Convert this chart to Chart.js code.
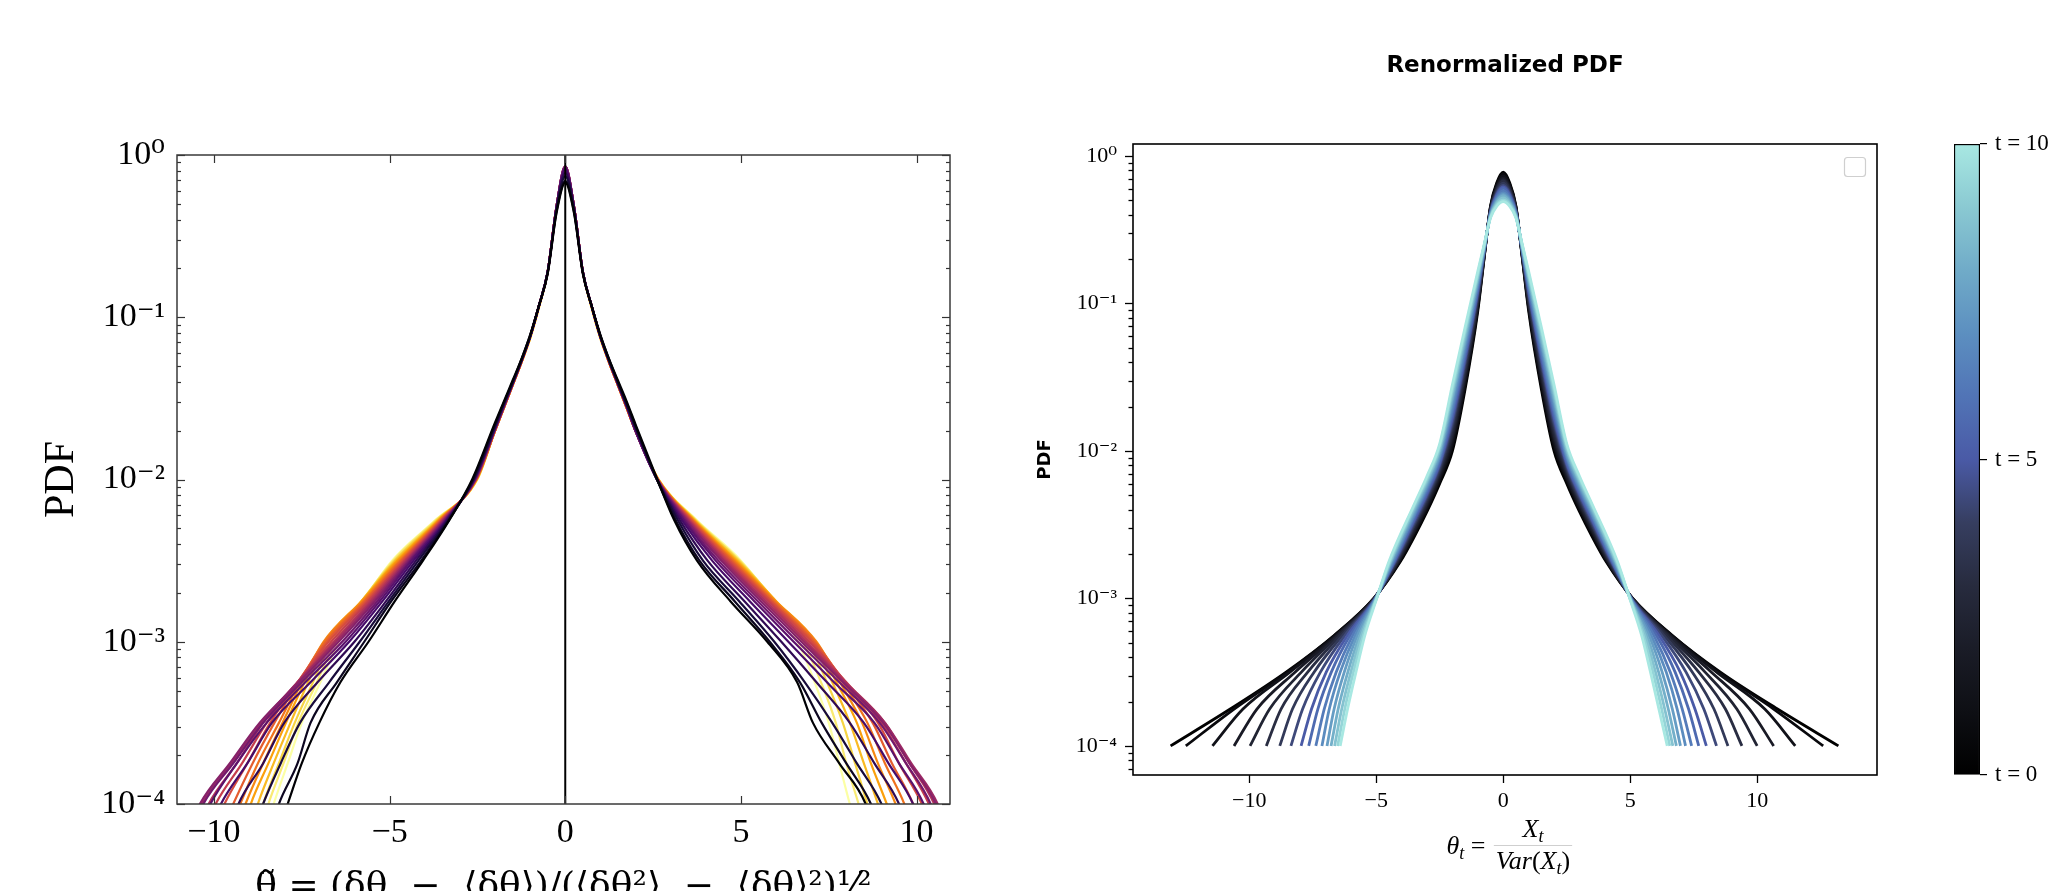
<!DOCTYPE html>
<html><head><meta charset="utf-8">
<script src="https://cdn.jsdelivr.net/npm/chart.js@4.4.1/dist/chart.umd.min.js"></script>
<style>
html,body{margin:0;padding:0;background:#fff;overflow:hidden;width:2072px;height:891px;}
canvas{position:absolute;top:0;}
#cl{left:0;} #cr{left:1000px;} #cc{left:1940px;}
</style></head><body>
<canvas id="cl" width="1000" height="930"></canvas>
<canvas id="cr" width="940" height="891"></canvas>
<canvas id="cc" width="132" height="891"></canvas>
<script>
// ---------------- LEFT PANEL DATA ----------------
const lXTicks = [-10, -5, 0, 5, 10];
const lXTickLabels = ['\u221210', '\u22125', '0', '5', '10'];
const lYTicks = [1e-4, 1e-3, 1e-2, 1e-1, 1];
const lYTickLabels = ['10\u207B\u2074', '10\u207B\u00B3', '10\u207B\u00B2', '10\u207B\u00B9', '10\u2070'];
const lXTitle = '\u03B8\u0303 = (\u03B4\u03B8  \u2212  \u27E8\u03B4\u03B8\u27E9)/(\u27E8\u03B4\u03B8\u00B2\u27E9  \u2212  \u27E8\u03B4\u03B8\u27E9\u00B2)\u00B9\u2044\u00B2';
const lColorPos = [0,0.053,0.105,0.158,0.21,0.263,0.316,0.368,0.421,0.474,0.526,0.579,0.632,0.684,0.737,0.789,0.842,0.895,0.947,1];
// core: log10(PDF) at lCoreX
const lCoreX = [-2,-1.75,-1.5,-1.25,-1,-0.75,-0.5,-0.25,0,0.25,0.5,0.75,1,1.25,1.5,1.75,2];
const lCore = [
 [-1.65,-1.52,-1.39,-1.26,-1.11,-0.93,-0.73,-0.36,-0.17,-0.36,-0.73,-0.93,-1.11,-1.26,-1.39,-1.52,-1.66],
 [-1.66,-1.53,-1.40,-1.26,-1.11,-0.93,-0.73,-0.35,-0.16,-0.35,-0.73,-0.93,-1.11,-1.26,-1.40,-1.53,-1.67],
 [-1.67,-1.53,-1.40,-1.27,-1.12,-0.93,-0.72,-0.34,-0.13,-0.34,-0.72,-0.93,-1.12,-1.27,-1.40,-1.54,-1.68],
 [-1.68,-1.54,-1.41,-1.27,-1.12,-0.93,-0.72,-0.33,-0.11,-0.33,-0.72,-0.93,-1.12,-1.27,-1.41,-1.54,-1.68],
 [-1.68,-1.54,-1.41,-1.27,-1.12,-0.93,-0.72,-0.33,-0.09,-0.33,-0.72,-0.93,-1.12,-1.27,-1.41,-1.55,-1.69],
 [-1.69,-1.55,-1.41,-1.27,-1.12,-0.93,-0.72,-0.32,-0.08,-0.32,-0.72,-0.93,-1.12,-1.27,-1.41,-1.55,-1.70],
 [-1.69,-1.55,-1.41,-1.27,-1.12,-0.93,-0.72,-0.32,-0.07,-0.32,-0.72,-0.93,-1.12,-1.27,-1.41,-1.55,-1.70],
 [-1.69,-1.55,-1.41,-1.27,-1.12,-0.93,-0.72,-0.32,-0.07,-0.32,-0.72,-0.93,-1.12,-1.27,-1.41,-1.55,-1.70],
 [-1.69,-1.55,-1.41,-1.27,-1.12,-0.93,-0.72,-0.32,-0.07,-0.32,-0.72,-0.93,-1.12,-1.27,-1.41,-1.55,-1.70],
 [-1.69,-1.55,-1.41,-1.27,-1.12,-0.93,-0.72,-0.32,-0.07,-0.32,-0.72,-0.93,-1.12,-1.27,-1.41,-1.55,-1.70],
 [-1.69,-1.55,-1.41,-1.27,-1.12,-0.93,-0.72,-0.32,-0.07,-0.32,-0.72,-0.93,-1.12,-1.27,-1.41,-1.55,-1.70],
 [-1.70,-1.56,-1.42,-1.28,-1.12,-0.93,-0.72,-0.32,-0.08,-0.32,-0.72,-0.93,-1.12,-1.28,-1.42,-1.56,-1.70],
 [-1.70,-1.56,-1.42,-1.28,-1.12,-0.93,-0.72,-0.32,-0.08,-0.32,-0.72,-0.93,-1.12,-1.28,-1.42,-1.56,-1.70],
 [-1.70,-1.56,-1.42,-1.28,-1.12,-0.93,-0.72,-0.32,-0.09,-0.32,-0.72,-0.93,-1.12,-1.28,-1.42,-1.56,-1.70],
 [-1.70,-1.56,-1.42,-1.28,-1.12,-0.93,-0.72,-0.32,-0.09,-0.32,-0.72,-0.93,-1.12,-1.28,-1.42,-1.56,-1.70],
 [-1.70,-1.56,-1.42,-1.28,-1.12,-0.93,-0.72,-0.32,-0.10,-0.32,-0.72,-0.93,-1.12,-1.28,-1.42,-1.56,-1.70],
 [-1.70,-1.56,-1.42,-1.28,-1.13,-0.94,-0.72,-0.33,-0.10,-0.33,-0.72,-0.94,-1.13,-1.28,-1.42,-1.56,-1.70],
 [-1.70,-1.56,-1.42,-1.28,-1.13,-0.94,-0.72,-0.33,-0.10,-0.33,-0.72,-0.94,-1.13,-1.28,-1.42,-1.56,-1.70],
 [-1.70,-1.56,-1.42,-1.28,-1.13,-0.94,-0.72,-0.33,-0.11,-0.33,-0.72,-0.94,-1.13,-1.28,-1.42,-1.56,-1.70],
 [-1.70,-1.56,-1.42,-1.28,-1.13,-0.94,-0.72,-0.33,-0.11,-0.33,-0.72,-0.94,-1.13,-1.28,-1.42,-1.56,-1.70]
];
// tails: x position where each curve crosses these log10 levels
const lLevels = [-2,-2.25,-2.5,-2.75,-3,-3.25,-3.5,-3.75,-4,-4.25];
const lTailLeft = [
 [-2.65,-3.30,-4.05,-4.85,-5.60,-6.40,-7.00,-7.50,-7.90,-8.30],
 [-2.63,-3.31,-4.10,-4.95,-5.72,-6.50,-7.25,-7.62,-8.15,-8.50],
 [-2.61,-3.33,-4.18,-5.02,-5.85,-6.72,-7.55,-8.10,-8.60,-9.00],
 [-2.60,-3.36,-4.25,-5.10,-6.00,-7.05,-8.00,-8.60,-9.30,-9.70],
 [-2.59,-3.38,-4.32,-5.20,-6.15,-7.25,-8.35,-9.05,-9.80,-10.30],
 [-2.58,-3.40,-4.38,-5.28,-6.25,-7.40,-8.50,-9.35,-10.10,-10.60],
 [-2.57,-3.42,-4.42,-5.35,-6.35,-7.50,-8.60,-9.45,-10.30,-10.80],
 [-2.56,-3.44,-4.46,-5.42,-6.45,-7.58,-8.70,-9.55,-10.40,-10.90],
 [-2.56,-3.46,-4.50,-5.48,-6.52,-7.62,-8.65,-9.50,-10.35,-10.85],
 [-2.55,-3.48,-4.54,-5.54,-6.58,-7.62,-8.60,-9.35,-10.15,-10.65],
 [-2.55,-3.50,-4.58,-5.60,-6.66,-7.62,-8.50,-9.20,-9.95,-10.45],
 [-2.54,-3.52,-4.62,-5.65,-6.74,-7.62,-8.40,-9.05,-9.70,-10.20],
 [-2.54,-3.54,-4.66,-5.70,-6.80,-7.60,-8.28,-8.90,-9.45,-9.95],
 [-2.53,-3.56,-4.70,-5.74,-6.85,-7.56,-8.15,-8.75,-9.25,-9.70],
 [-2.53,-3.58,-4.74,-5.78,-6.88,-7.50,-8.05,-8.60,-9.10,-9.50],
 [-2.52,-3.60,-4.78,-5.80,-6.85,-7.42,-7.95,-8.45,-8.95,-9.30],
 [-2.52,-3.62,-4.82,-5.80,-6.78,-7.32,-7.82,-8.30,-8.75,-9.10],
 [-2.51,-3.65,-4.86,-5.80,-6.66,-7.18,-7.70,-8.15,-8.60,-8.95],
 [-2.51,-3.68,-4.90,-5.78,-6.55,-7.07,-7.60,-8.02,-8.45,-8.80],
 [-2.50,-3.70,-4.93,-5.75,-6.45,-6.97,-7.50,-7.90,-8.30,-8.65]
];
const lTailRight = [
 [2.62,3.10,3.75,4.70,5.75,6.60,7.05,7.80,8.55,8.90],
 [2.61,3.14,3.82,4.82,5.82,6.68,7.30,8.00,8.70,9.10],
 [2.61,3.20,3.92,4.95,5.95,6.82,7.60,8.30,9.00,9.40],
 [2.61,3.26,4.05,5.10,6.15,7.15,8.10,8.80,9.50,9.90],
 [2.61,3.32,4.18,5.25,6.35,7.45,8.50,9.20,9.90,10.30],
 [2.61,3.37,4.28,5.38,6.50,7.65,8.80,9.50,10.20,10.60],
 [2.62,3.41,4.36,5.48,6.62,7.80,8.95,9.70,10.40,10.80],
 [2.62,3.45,4.44,5.57,6.72,7.90,9.05,9.80,10.55,10.95],
 [2.62,3.48,4.50,5.65,6.80,7.95,9.10,9.85,10.60,11.00],
 [2.63,3.51,4.56,5.72,6.87,7.98,9.10,9.80,10.50,10.90],
 [2.63,3.54,4.62,5.79,6.95,8.00,9.00,9.70,10.35,10.80],
 [2.63,3.57,4.68,5.85,7.02,7.98,8.90,9.50,10.15,10.60],
 [2.64,3.60,4.73,5.90,7.08,7.95,8.75,9.30,9.90,10.30],
 [2.64,3.62,4.78,5.95,7.12,7.90,8.60,9.10,9.65,10.05],
 [2.64,3.64,4.82,5.98,7.15,7.82,8.45,8.90,9.40,9.80],
 [2.65,3.66,4.86,6.00,7.12,7.72,8.30,8.70,9.15,9.55],
 [2.65,3.68,4.90,6.00,7.02,7.60,8.10,8.50,8.90,9.30],
 [2.65,3.70,4.94,5.98,6.90,7.45,7.90,8.25,8.60,9.00],
 [2.66,3.72,4.97,5.95,6.76,7.28,7.70,8.00,8.35,8.70],
 [2.66,3.74,5.00,5.90,6.62,7.10,7.50,7.80,8.10,8.45]
];
const vLineX = [0, 0];
const vLineY = [1e-4, 1];

// ---------------- RIGHT PANEL DATA ----------------
const rTitle = 'Renormalized PDF';
const rYTitle = 'PDF';
const rXTicks = [-10, -5, 0, 5, 10];
const rXTickLabels = ['\u221210', '\u22125', '0', '5', '10'];
const rYTicks = [1e-4, 1e-3, 1e-2, 1e-1, 1];
const rYTickLabels = ['10\u207B\u2074', '10\u207B\u00B3', '10\u207B\u00B2', '10\u207B\u00B9', '10\u2070'];
const rT = [0,0.625,1.25,1.875,2.5,3.125,3.75,4.375,5,5.625,6.25,6.875,7.5,8.125,8.75,9.375,10];
const rCoreX = [-3.5,-3,-2.5,-2,-1.5,-1,-0.75,-0.5,-0.25,0,0.25,0.5,0.75,1,1.5,2,2.5,3,3.5];
const rCore = [
 [-2.58,-2.41,-2.22,-2.0,-1.58,-1.05,-0.69,-0.34,-0.18,-0.11,-0.18,-0.34,-0.69,-1.05,-1.58,-2.0,-2.22,-2.41,-2.58],
 [-2.565,-2.395,-2.2,-1.97,-1.555,-1.03,-0.685,-0.345,-0.19,-0.12,-0.19,-0.345,-0.685,-1.03,-1.555,-1.97,-2.2,-2.395,-2.565],
 [-2.55,-2.38,-2.185,-1.945,-1.53,-1.02,-0.68,-0.35,-0.2,-0.135,-0.2,-0.35,-0.68,-1.02,-1.53,-1.945,-2.185,-2.38,-2.55],
 [-2.54,-2.365,-2.17,-1.915,-1.5,-1.0,-0.675,-0.355,-0.21,-0.15,-0.21,-0.355,-0.675,-1.0,-1.5,-1.915,-2.17,-2.365,-2.54],
 [-2.525,-2.35,-2.15,-1.89,-1.475,-0.98,-0.67,-0.36,-0.22,-0.16,-0.22,-0.36,-0.67,-0.98,-1.475,-1.89,-2.15,-2.35,-2.525],
 [-2.51,-2.335,-2.135,-1.86,-1.45,-0.97,-0.66,-0.365,-0.23,-0.17,-0.23,-0.365,-0.66,-0.97,-1.45,-1.86,-2.135,-2.335,-2.51],
 [-2.5,-2.32,-2.12,-1.83,-1.42,-0.95,-0.655,-0.37,-0.24,-0.185,-0.24,-0.37,-0.655,-0.95,-1.42,-1.83,-2.12,-2.32,-2.5],
 [-2.485,-2.305,-2.1,-1.805,-1.395,-0.93,-0.65,-0.375,-0.25,-0.2,-0.25,-0.375,-0.65,-0.93,-1.395,-1.805,-2.1,-2.305,-2.485],
 [-2.47,-2.29,-2.085,-1.775,-1.37,-0.915,-0.645,-0.38,-0.26,-0.21,-0.26,-0.38,-0.645,-0.915,-1.37,-1.775,-2.085,-2.29,-2.47],
 [-2.455,-2.275,-2.07,-1.745,-1.345,-0.9,-0.64,-0.385,-0.27,-0.22,-0.27,-0.385,-0.64,-0.9,-1.345,-1.745,-2.07,-2.275,-2.455],
 [-2.44,-2.26,-2.05,-1.72,-1.32,-0.88,-0.635,-0.39,-0.28,-0.235,-0.28,-0.39,-0.635,-0.88,-1.32,-1.72,-2.05,-2.26,-2.44],
 [-2.43,-2.245,-2.035,-1.69,-1.29,-0.865,-0.63,-0.395,-0.29,-0.25,-0.29,-0.395,-0.63,-0.865,-1.29,-1.69,-2.035,-2.245,-2.43],
 [-2.415,-2.23,-2.02,-1.66,-1.265,-0.85,-0.625,-0.4,-0.3,-0.26,-0.3,-0.4,-0.625,-0.85,-1.265,-1.66,-2.02,-2.23,-2.415],
 [-2.4,-2.215,-2.0,-1.635,-1.24,-0.83,-0.615,-0.405,-0.31,-0.27,-0.31,-0.405,-0.615,-0.83,-1.24,-1.635,-2.0,-2.215,-2.4],
 [-2.385,-2.2,-1.985,-1.605,-1.21,-0.815,-0.61,-0.41,-0.32,-0.285,-0.32,-0.41,-0.61,-0.815,-1.21,-1.605,-1.985,-2.2,-2.385],
 [-2.37,-2.185,-1.965,-1.58,-1.185,-0.8,-0.605,-0.415,-0.33,-0.3,-0.33,-0.415,-0.605,-0.8,-1.185,-1.58,-1.965,-2.185,-2.37],
 [-2.36,-2.17,-1.95,-1.55,-1.16,-0.78,-0.6,-0.42,-0.34,-0.31,-0.34,-0.42,-0.6,-0.78,-1.16,-1.55,-1.95,-2.17,-2.36]
];
const rLevels = [-2.75,-3,-3.25,-3.5,-3.75,-4];
const rTailLeft = [
 [-4.05,-5.10,-6.65,-8.55,-10.75,-13.10],
 [-4.08,-5.09,-6.64,-8.50,-10.60,-12.50],
 [-4.11,-5.09,-6.60,-8.40,-10.25,-11.45],
 [-4.13,-5.08,-6.55,-8.20,-9.70,-10.60],
 [-4.16,-5.07,-6.50,-7.95,-9.20,-9.97],
 [-4.19,-5.06,-6.42,-7.70,-8.75,-9.33],
 [-4.22,-5.06,-6.33,-7.45,-8.30,-8.80],
 [-4.25,-5.05,-6.23,-7.20,-7.90,-8.36],
 [-4.28,-5.04,-6.13,-6.97,-7.55,-7.96],
 [-4.30,-5.03,-6.03,-6.77,-7.30,-7.66],
 [-4.33,-5.03,-5.93,-6.58,-7.05,-7.38],
 [-4.36,-5.02,-5.83,-6.42,-6.85,-7.14],
 [-4.39,-5.01,-5.74,-6.26,-6.66,-6.94],
 [-4.42,-5.00,-5.65,-6.12,-6.50,-6.78],
 [-4.44,-5.00,-5.58,-6.00,-6.36,-6.64],
 [-4.47,-4.99,-5.51,-5.90,-6.24,-6.52],
 [-4.50,-4.98,-5.45,-5.80,-6.13,-6.42]
];
const rTailRight = [
 [4.05,5.10,6.65,8.55,10.80,13.20],
 [4.08,5.09,6.64,8.50,10.65,12.60],
 [4.11,5.09,6.60,8.40,10.30,11.50],
 [4.13,5.08,6.55,8.20,9.70,10.65],
 [4.16,5.07,6.50,7.95,9.20,10.00],
 [4.19,5.06,6.42,7.70,8.75,9.40],
 [4.22,5.06,6.33,7.45,8.30,8.85],
 [4.25,5.05,6.23,7.20,7.90,8.40],
 [4.28,5.04,6.13,6.97,7.55,8.00],
 [4.30,5.03,6.03,6.77,7.30,7.70],
 [4.33,5.03,5.93,6.58,7.05,7.42],
 [4.36,5.02,5.83,6.42,6.85,7.18],
 [4.39,5.01,5.74,6.26,6.66,6.98],
 [4.42,5.00,5.65,6.12,6.50,6.82],
 [4.44,5.00,5.58,6.00,6.36,6.68],
 [4.47,4.99,5.51,5.90,6.24,6.56],
 [4.50,4.98,5.45,5.80,6.13,6.46]
];
// colorbar
const cbTicks = [0, 5, 10];
const cbTickLabels = ['t = 0', 't = 5', 't = 10'];
const cbRange = [0, 10];

// ---------------- colours (style) ----------------
const infernoStops = ['#000004','#160b39','#420a68','#6a176e','#932667','#bc3754','#dd513a','#f37819','#fca50a','#f6d746','#fcffa4'];
const iceStops = [[0,'#000000'],[0.1,'#0e0f14'],[0.2,'#1a1c27'],[0.3,'#272b3e'],[0.4,'#363e60'],[0.5,'#4a5aa6'],[0.6,'#5174b6'],[0.7,'#5c8fc0'],[0.8,'#70abc8'],[0.9,'#8ac9d2'],[1,'#a8e8e2']];
function hex2rgb(h){return [parseInt(h.substr(1,2),16),parseInt(h.substr(3,2),16),parseInt(h.substr(5,2),16)];}
function mix(a,b,t){const A=hex2rgb(a),B=hex2rgb(b);return 'rgb('+A.map((v,i)=>Math.round(v+(B[i]-v)*t)).join(',')+')';}
function inferno(c){const n=infernoStops.length-1;const p=Math.min(n-1e-9,c*n);const i=Math.floor(p);return mix(infernoStops[i],infernoStops[i+1],p-i);}
function ice(c){for(let i=0;i<iceStops.length-1;i++){const [p0,c0]=iceStops[i],[p1,c1]=iceStops[i+1];if(c<=p1)return mix(c0,c1,(c-p0)/(p1-p0));}return iceStops[iceStops.length-1][1];}

// ---------------- helpers ----------------
const SERIF = '"Liberation Serif", "DejaVu Serif", serif';
function line(ctx,x0,y0,x1,y1){ctx.beginPath();ctx.moveTo(x0,y0);ctx.lineTo(x1,y1);ctx.stroke();}
function logTicks(scale, cb){
  const lo=Math.floor(Math.log10(scale.min)), hi=Math.ceil(Math.log10(scale.max));
  for(let d=lo; d<=hi; d++) for(let m=1;m<10;m++){
    const v=m*Math.pow(10,d);
    if(v<scale.min*0.9999||v>scale.max*1.0001) continue;
    cb(Math.round(scale.getPixelForValue(v))+0.5, m===1);
  }
}
function buildLeft(k){
  const pts=[];
  const L=lTailLeft[k], R=lTailRight[k];
  for(let j=lLevels.length-1;j>=0;j--) pts.push({x:L[j], y:Math.pow(10,lLevels[j])});
  lCoreX.forEach((x,i)=>pts.push({x:x, y:Math.pow(10,lCore[k][i])}));
  for(let j=0;j<lLevels.length;j++) pts.push({x:R[j], y:Math.pow(10,lLevels[j])});
  return pts;
}
function buildRight(k){
  const pts=[];
  const L=rTailLeft[k], R=rTailRight[k];
  for(let j=rLevels.length-1;j>=0;j--) pts.push({x:L[j], y:Math.pow(10,rLevels[j])});
  rCoreX.forEach((x,i)=>pts.push({x:x, y:Math.pow(10,rCore[k][i])}));
  for(let j=0;j<rLevels.length;j++) pts.push({x:R[j], y:Math.pow(10,rLevels[j])});
  return pts;
}

// ---------------- LEFT CHART ----------------
const leftSets = [];
leftSets.push({data: vLineX.map((x,i)=>({x:x, y:vLineY[i]})), borderColor:'#000', borderWidth:2, order:-1, tension:0});
lCore.forEach((row,k)=>{
  leftSets.push({data: buildLeft(k), borderColor: inferno(lColorPos[k]), borderWidth:2.2, order:0, cubicInterpolationMode:'monotone'});
});
const leftDeco = {
  id:'leftDeco',
  afterDatasetsDraw(chart){
    const {ctx, chartArea:a, scales:{x,y}} = chart;
    ctx.save();
    ctx.strokeStyle='#333'; ctx.lineWidth=1.2;
    logTicks(y,(py,maj)=>{const L=maj?8:4; line(ctx,a.left,py,a.left+L,py); line(ctx,a.right,py,a.right-L,py);});
    lXTicks.forEach(v=>{const px=Math.round(x.getPixelForValue(v))+0.5; line(ctx,px,a.bottom,px,a.bottom-8); line(ctx,px,a.top,px,a.top+8);});
    ctx.lineWidth=1.5; ctx.strokeStyle='#3a3a3a';
    ctx.strokeRect(a.left, a.top, a.right-a.left, a.bottom-a.top);
    ctx.restore();
  }
};
new Chart(document.getElementById('cl'), {
  type:'line',
  data:{datasets:leftSets},
  options:{
    responsive:false, animation:false, devicePixelRatio:1,
    layout:{padding:{left:0,right:50,top:155,bottom:0}},
    elements:{point:{radius:0}, line:{fill:false}},
    plugins:{legend:{display:false}, tooltip:{enabled:false}, title:{display:false}},
    scales:{
      x:{type:'linear', min:-11.05, max:10.95,
        afterBuildTicks:s=>{s.ticks=lXTicks.map(v=>({value:v}));},
        afterFit:s=>{s.height=126;},
        grid:{display:false, drawTicks:false}, border:{display:false},
        ticks:{autoSkip:false, maxRotation:0, padding:9, color:'#000', font:{family:SERIF, size:34}, callback:(v,i)=>lXTickLabels[i]},
        title:{display:true, text:lXTitle, color:'#000', font:{family:'"DejaVu Serif", serif', size:36}, padding:{top:0,bottom:21}}
      },
      y:{type:'logarithmic', min:1e-4, max:1,
        afterBuildTicks:s=>{s.ticks=lYTicks.map(v=>({value:v}));},
        afterFit:s=>{s.width=177;},
        grid:{display:false, drawTicks:false}, border:{display:false},
        ticks:{autoSkip:false, padding:12, color:'#000', font:{family:SERIF, size:34}, callback:(v,i)=>lYTickLabels[i]},
        title:{display:true, text:'PDF', color:'#000', font:{family:SERIF, size:42}, padding:{top:37,bottom:0}}
      }
    }
  },
  plugins:[leftDeco]
});

// ---------------- RIGHT CHART ----------------
const rightSets = [];
for(let k=rT.length-1;k>=0;k--){
  rightSets.push({data: buildRight(k), borderColor: ice(rT[k]/10), borderWidth:2.8, cubicInterpolationMode:'monotone'});
}
function drawRuns(ctx, parts, x, y, measureOnly){
  let cx=x;
  for(const p of parts){
    ctx.font=(p.i?'italic ':'')+p.s+'px '+SERIF;
    if(!measureOnly) ctx.fillText(p.t, cx, y+(p.dy||0));
    cx+=ctx.measureText(p.t).width;
  }
  return cx-x;
}
const rXLhs = [{t:'\u03B8',i:1,s:26},{t:'t',i:1,s:18,dy:5},{t:' = ',s:26}];
const rXNum = [{t:'X',i:1,s:26},{t:'t',i:1,s:18,dy:5}];
const rXDen = [{t:'Var',i:1,s:26},{t:'(',s:26},{t:'X',i:1,s:26},{t:'t',i:1,s:18,dy:5},{t:')',s:26}];
const rightDeco = {
  id:'rightDeco',
  afterDraw(chart){
    const {ctx, chartArea:a, scales:{x,y}} = chart;
    ctx.save();
    ctx.strokeStyle='#000'; ctx.lineWidth=1.3;
    logTicks(y,(py,maj)=>{const L=maj?8:4.5; line(ctx,a.left,py,a.left-L,py);});
    rXTicks.forEach(v=>{const px=Math.round(x.getPixelForValue(v))+0.5; line(ctx,px,a.bottom,px,a.bottom+8);});
    ctx.lineWidth=1.6;
    ctx.strokeRect(a.left, a.top, a.right-a.left, a.bottom-a.top);
    // empty legend frame
    ctx.strokeStyle='#cfcfcf'; ctx.lineWidth=1.2;
    ctx.beginPath(); ctx.roundRect(a.right-32.5, a.top+13.5, 21, 19, 3); ctx.stroke();
    // x-axis label as fraction
    ctx.fillStyle='#000'; ctx.textBaseline='alphabetic';
    const cx=(a.left+a.right)/2+28, barY=a.bottom+70;
    const wN=drawRuns(ctx,rXNum,0,0,true), wD=drawRuns(ctx,rXDen,0,0,true), wL=drawRuns(ctx,rXLhs,0,0,true);
    const bw=Math.max(wN,wD)+4;
    drawRuns(ctx,rXNum,cx-wN/2,barY-8);
    drawRuns(ctx,rXDen,cx-wD/2,barY+24);
    ctx.lineWidth=1.2; line(ctx,cx-bw/2,barY+0.5,cx+bw/2,barY+0.5);
    drawRuns(ctx,rXLhs,cx-bw/2-wL-2,barY+9);
    ctx.restore();
  }
};
new Chart(document.getElementById('cr'), {
  type:'line',
  data:{datasets:rightSets},
  options:{
    responsive:false, animation:false, devicePixelRatio:1,
    layout:{padding:{left:0,right:63,top:0,bottom:0}},
    elements:{point:{radius:0}, line:{fill:false}},
    plugins:{legend:{display:false}, tooltip:{enabled:false},
      title:{display:true, text:rTitle, fullSize:false, color:'#000', font:{family:'"DejaVu Sans", sans-serif', weight:'bold', size:23}, padding:{top:52,bottom:64.4}}},
    scales:{
      x:{type:'linear', min:-14.58, max:14.72,
        afterBuildTicks:s=>{s.ticks=rXTicks.map(v=>({value:v}));},
        afterFit:s=>{s.height=116;},
        grid:{display:false, drawTicks:false}, border:{display:false},
        ticks:{autoSkip:false, maxRotation:0, padding:13, color:'#000', font:{family:SERIF, size:22}, callback:(v,i)=>rXTickLabels[i]}
      },
      y:{type:'logarithmic', min:6.35e-5, max:1.205,
        afterBuildTicks:s=>{s.ticks=rYTicks.map(v=>({value:v}));},
        afterFit:s=>{s.width=133;},
        grid:{display:false, drawTicks:false}, border:{display:false},
        ticks:{autoSkip:false, padding:16, color:'#000', font:{family:SERIF, size:22}, callback:(v,i)=>rYTickLabels[i]},
        title:{display:true, text:rYTitle, color:'#000', font:{family:'"DejaVu Sans", sans-serif', weight:'bold', size:18}, padding:{top:35,bottom:0}}
      }
    }
  },
  plugins:[rightDeco]
});

// ---------------- COLORBAR ----------------
new Chart(document.getElementById('cc'), {
  type:'bar',
  data:{labels:['t'], datasets:[{data:[cbRange],
    backgroundColor:(ctx)=>{const ch=ctx.chart, a=ch.chartArea; if(!a) return '#000';
      const g=ch.ctx.createLinearGradient(0,a.bottom,0,a.top); iceStops.forEach(s=>g.addColorStop(s[0],s[1])); return g;},
    borderColor:'#000', borderWidth:1.5, borderSkipped:false, barPercentage:1, categoryPercentage:1}]},
  options:{
    responsive:false, animation:false, devicePixelRatio:1,
    layout:{padding:{left:14,right:0,top:144,bottom:116}},
    plugins:{legend:{display:false}, tooltip:{enabled:false}},
    scales:{
      x:{display:false},
      y:{position:'right', min:0, max:10,
        afterBuildTicks:s=>{s.ticks=cbTicks.map(v=>({value:v}));},
        afterFit:s=>{s.width=92;},
        grid:{drawOnChartArea:false, drawTicks:true, tickLength:7, color:'#000', lineWidth:1.2}, border:{display:false},
        ticks:{autoSkip:false, padding:8, color:'#000', font:{family:SERIF, size:23}, callback:(v,i)=>cbTickLabels[i]}
      }
    }
  }
});
</script>
</body></html>
